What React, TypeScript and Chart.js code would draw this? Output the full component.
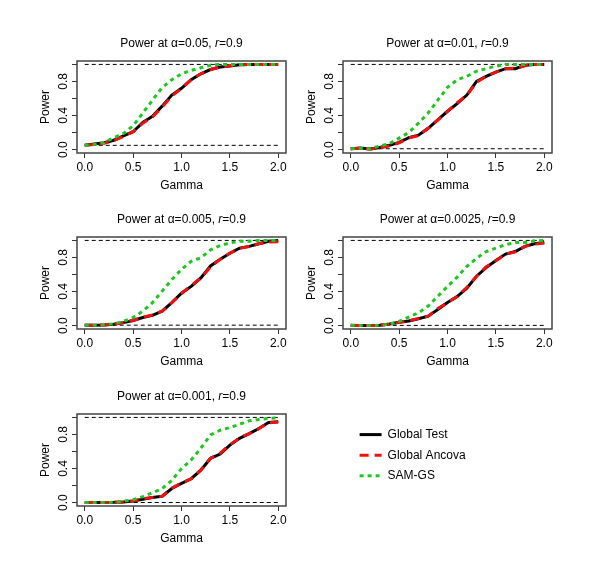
import { useEffect, useRef } from 'react';
import { Chart, registerables } from 'chart.js';

Chart.register(...registerables);

const FONT = '"Liberation Sans", Arial, Helvetica, sans-serif';

// x values (Gamma) shared by all panels
const gamma = [0, 0.1, 0.2, 0.3, 0.4, 0.5, 0.6, 0.7, 0.8, 0.9, 1.0, 1.1, 1.2, 1.3, 1.4, 1.5, 1.6, 1.7, 1.8, 1.9, 2.0];
const xTicks = [0, 0.5, 1, 1.5, 2];
const yTicks = [0, 0.2, 0.4, 0.6, 0.8, 1];
const yLabels = [0, 0.4, 0.8];

const seriesNames = ['Global Test', 'Global Ancova', 'SAM-GS'];
const alphaText = ['0.05', '0.01', '0.005', '0.0025', '0.001'];
const alphaLevels = [0.05, 0.01, 0.005, 0.0025, 0.001];

// alpha = 0.05
const test05 = [0.05, 0.065, 0.08, 0.11, 0.16, 0.21, 0.32, 0.39, 0.51, 0.64, 0.72, 0.82, 0.89, 0.94, 0.97, 0.98, 0.995, 1, 1, 1, 1];
const ancova05 = [0.05, 0.06, 0.075, 0.105, 0.155, 0.21, 0.31, 0.385, 0.5, 0.63, 0.72, 0.82, 0.89, 0.94, 0.97, 0.985, 0.995, 1, 1, 1, 1];
const sam05 = [0.05, 0.06, 0.08, 0.14, 0.19, 0.28, 0.43, 0.58, 0.73, 0.82, 0.89, 0.93, 0.96, 0.99, 1, 1, 1, 1, 1, 1, 1];

// alpha = 0.01
const test01 = [0.01, 0.018, 0.006, 0.025, 0.05, 0.085, 0.14, 0.17, 0.25, 0.35, 0.45, 0.54, 0.64, 0.8, 0.86, 0.91, 0.95, 0.95, 0.99, 1, 1];
const ancova01 = [0.01, 0.015, 0.008, 0.02, 0.045, 0.08, 0.135, 0.165, 0.25, 0.35, 0.45, 0.55, 0.64, 0.79, 0.86, 0.91, 0.95, 0.955, 0.985, 1, 1];
const sam01 = [0.01, 0.015, 0.01, 0.04, 0.07, 0.135, 0.2, 0.31, 0.43, 0.58, 0.73, 0.82, 0.86, 0.92, 0.95, 0.98, 1, 1, 1, 1, 1];

// alpha = 0.005
const test005 = [0.005, 0.005, 0.008, 0.017, 0.035, 0.06, 0.095, 0.12, 0.17, 0.27, 0.38, 0.46, 0.56, 0.7, 0.78, 0.85, 0.91, 0.93, 0.96, 0.99, 1.0];
const ancova005 = [0.005, 0.005, 0.008, 0.017, 0.035, 0.06, 0.1, 0.125, 0.17, 0.27, 0.38, 0.47, 0.56, 0.69, 0.78, 0.85, 0.905, 0.93, 0.96, 0.98, 0.985];
const sam005 = [0.005, 0.005, 0.01, 0.02, 0.05, 0.095, 0.17, 0.27, 0.405, 0.54, 0.66, 0.755, 0.795, 0.89, 0.94, 0.97, 0.99, 0.99, 1, 1, 1];

// alpha = 0.0025
const test0025 = [0.0025, 0.002, 0, 0.005, 0.018, 0.04, 0.055, 0.08, 0.11, 0.19, 0.27, 0.34, 0.44, 0.58, 0.68, 0.765, 0.84, 0.87, 0.93, 0.96, 0.975];
const ancova0025 = [0.003, 0.002, 0, 0.005, 0.016, 0.04, 0.055, 0.085, 0.11, 0.2, 0.27, 0.34, 0.45, 0.58, 0.69, 0.76, 0.84, 0.865, 0.93, 0.955, 0.97];
const sam0025 = [0.003, 0, 0, 0.005, 0.015, 0.05, 0.1, 0.15, 0.23, 0.345, 0.46, 0.57, 0.695, 0.79, 0.87, 0.91, 0.95, 0.975, 0.975, 0.995, 1];

// alpha = 0.001
const test001 = [0.001, 0.001, 0.001, 0.003, 0.008, 0.02, 0.04, 0.06, 0.075, 0.165, 0.225, 0.28, 0.38, 0.52, 0.57, 0.675, 0.755, 0.81, 0.87, 0.94, 0.95];
const ancova001 = [0.001, 0.001, 0.001, 0.003, 0.008, 0.02, 0.045, 0.06, 0.075, 0.17, 0.23, 0.28, 0.385, 0.52, 0.58, 0.68, 0.76, 0.81, 0.87, 0.935, 0.945];
const sam001 = [0.001, 0.001, 0.001, 0.004, 0.015, 0.035, 0.07, 0.115, 0.165, 0.26, 0.4, 0.5, 0.64, 0.795, 0.85, 0.88, 0.92, 0.96, 0.975, 0.99, 0.995];

const COLORS = ['#000000', '#ee1111', '#22c422'];
const DASHES = [[], [9, 6], [4, 4]];

// plot box geometry (R style layout)
const BOX_W = 209;
const BOX_H = 92;
const PAD_L = 60;
const PAD_T = 35;
const PAD_R = 10;
const PAD_B = 45;
const Y_AXIS_W = 38.2;
const X_AXIS_H = 40.2;

const decor = {
  id: 'decor',
  afterDraw(chart: any, _args: any, opts: any) {
    const { ctx, chartArea: a } = chart;
    const ys = chart.scales.y;
    ctx.save();
    ctx.strokeStyle = '#444';
    ctx.lineWidth = 1.5;
    ctx.setLineDash([]);
    ctx.strokeRect(a.left, a.top, a.right - a.left, a.bottom - a.top);

    // y tick labels, rotated like R's default las=0
    ctx.fillStyle = '#000';
    ctx.font = `12px ${FONT}`;
    ctx.textAlign = 'center';
    ctx.textBaseline = 'middle';
    yLabels.forEach((v) => {
      ctx.save();
      ctx.translate(a.left - 13, ys.getPixelForValue(v));
      ctx.rotate(-Math.PI / 2);
      ctx.fillText(v.toFixed(1), 0, 0);
      ctx.restore();
    });

    // title with greek alpha and italic r
    const parts = [
      { t: 'Power at ', f: `12px ${FONT}` },
      { t: '\u03b1', f: `12px ${FONT}` },
      { t: `=${opts.alpha}, `, f: `12px ${FONT}` },
      { t: 'r', f: `italic 12px ${FONT}` },
      { t: '=0.9', f: `12px ${FONT}` },
    ];
    let total = 0;
    const widths = parts.map((p) => {
      ctx.font = p.f;
      const w = ctx.measureText(p.t).width;
      total += w;
      return w;
    });
    let x = (a.left + a.right) / 2 - total / 2;
    ctx.textAlign = 'left';
    ctx.textBaseline = 'alphabetic';
    parts.forEach((p, i) => {
      ctx.font = p.f;
      ctx.fillText(p.t, x, a.top - 14.5);
      x += widths[i];
    });
    ctx.restore();
  },
};

const Panel = ({ idx, test, ancova, sam, left, top }: any) => {
  const canvasRef = useRef(null);
  const chartRef = useRef(null);

  useEffect(() => {
    if (!canvasRef.current) return;
    if (chartRef.current) chartRef.current.destroy();

    const level = alphaLevels[idx];
    const series = [test, ancova, sam];
    const order = [3, 2, 1];

    chartRef.current = new Chart(canvasRef.current, {
      type: 'line',
      data: {
        datasets: [
          ...series.map((vals, s) => ({
            label: seriesNames[s],
            data: gamma.map((g, i) => ({ x: g, y: vals[i] })),
            borderColor: COLORS[s],
            borderWidth: 3,
            borderDash: DASHES[s],
            pointRadius: 0,
            tension: 0,
            fill: false,
            order: order[s],
          })),
          {
            label: 'upper',
            data: [{ x: 0, y: 1 }, { x: 2, y: 1 }],
            borderColor: '#000',
            borderWidth: 1,
            borderDash: [4, 3],
            pointRadius: 0,
            order: 4,
          },
          {
            label: 'alpha',
            data: [{ x: 0, y: level }, { x: 2, y: level }],
            borderColor: '#000',
            borderWidth: 1,
            borderDash: [4, 3],
            pointRadius: 0,
            order: 4,
          },
        ],
      },
      options: {
        responsive: true,
        maintainAspectRatio: false,
        animation: false,
        layout: {
          padding: { left: PAD_L - Y_AXIS_W, top: PAD_T, right: PAD_R, bottom: PAD_B - X_AXIS_H },
        },
        plugins: {
          legend: { display: false },
          tooltip: { enabled: false },
          decor: { alpha: alphaText[idx] },
        },
        scales: {
          x: {
            type: 'linear',
            min: -0.08,
            max: 2.08,
            afterBuildTicks: (scale: any) => { scale.ticks = xTicks.map((v) => ({ value: v })); },
            afterFit: (scale: any) => { scale.height = X_AXIS_H; scale.paddingLeft = 0; scale.paddingRight = 0; },
            ticks: {
              callback: (v: any) => Number(v).toFixed(1),
              color: '#000',
              font: { family: FONT, size: 12 },
              padding: 2,
              maxRotation: 0,
              autoSkip: false,
            },
            grid: { drawOnChartArea: false, drawTicks: true, tickLength: 5, color: '#333' },
            border: { display: false },
            title: { display: true, text: 'Gamma', color: '#000', font: { family: FONT, size: 12 }, padding: 0 },
          },
          y: {
            type: 'linear',
            min: -0.04,
            max: 1.04,
            afterBuildTicks: (scale: any) => { scale.ticks = yTicks.map((v) => ({ value: v })); },
            afterFit: (scale: any) => { scale.width = Y_AXIS_W; scale.paddingTop = 0; scale.paddingBottom = 0; },
            ticks: { display: false },
            grid: { drawOnChartArea: false, drawTicks: true, tickLength: 5, color: '#333' },
            border: { display: false },
            title: { display: true, text: 'Power', color: '#000', font: { family: FONT, size: 12 }, padding: 0 },
          },
        },
      },
      plugins: [decor],
    } as any);

    return () => { if (chartRef.current) chartRef.current.destroy(); };
  }, [idx, test, ancova, sam]);

  return (
    <div
      style={{
        position: 'absolute',
        left: left - PAD_L,
        top: top - PAD_T,
        width: PAD_L + BOX_W + PAD_R,
        height: PAD_T + BOX_H + PAD_B,
      }}
    >
      <canvas ref={canvasRef}></canvas>
    </div>
  );
};

const LegendBox = () => {
  const canvasRef = useRef(null);
  const chartRef = useRef(null);

  useEffect(() => {
    if (!canvasRef.current) return;
    if (chartRef.current) chartRef.current.destroy();

    chartRef.current = new Chart(canvasRef.current, {
      type: 'line',
      data: {
        datasets: seriesNames.map((name, s) => ({
          label: name,
          data: [],
          borderColor: COLORS[s],
          backgroundColor: COLORS[s],
          borderWidth: 3,
          borderDash: DASHES[s],
        })),
      },
      options: {
        responsive: true,
        maintainAspectRatio: false,
        animation: false,
        layout: { padding: 0 },
        plugins: {
          tooltip: { enabled: false },
          legend: {
            display: true,
            position: 'left',
            align: 'start',
            labels: {
              usePointStyle: true,
              pointStyle: 'line',
              pointStyleWidth: 22,
              padding: 8.6,
              color: '#000',
              font: { family: FONT, size: 12 },
              // keep the dash pattern of each series in the legend sample
              generateLabels: (chart: any) =>
                chart.data.datasets.map((ds: any, i: number) => ({
                  text: ds.label,
                  datasetIndex: i,
                  fillStyle: ds.borderColor,
                  strokeStyle: ds.borderColor,
                  lineWidth: 3,
                  lineDash: DASHES[i],
                  lineCap: 'butt',
                  pointStyle: 'line',
                  hidden: false,
                  fontColor: '#000',
                })),
            },
          },
        },
        scales: { x: { display: false }, y: { display: false } },
      },
    } as any);

    return () => { if (chartRef.current) chartRef.current.destroy(); };
  }, []);

  return (
    <div style={{ position: 'absolute', left: 351.4, top: 419.9, width: 248, height: 90 }}>
      <canvas ref={canvasRef}></canvas>
    </div>
  );
};

export default function App() {
  return (
    <div style={{ position: 'absolute', left: 0, top: 0, width: 600, height: 572, background: '#fff', overflow: 'hidden' }}>
      <Panel idx={0} test={test05} ancova={ancova05} sam={sam05} left={77} top={61} />
      <Panel idx={1} test={test01} ancova={ancova01} sam={sam01} left={343} top={61} />
      <Panel idx={2} test={test005} ancova={ancova005} sam={sam005} left={77} top={237} />
      <Panel idx={3} test={test0025} ancova={ancova0025} sam={sam0025} left={343} top={237} />
      <Panel idx={4} test={test001} ancova={ancova001} sam={sam001} left={77} top={414} />
      <LegendBox />
    </div>
  );
}
